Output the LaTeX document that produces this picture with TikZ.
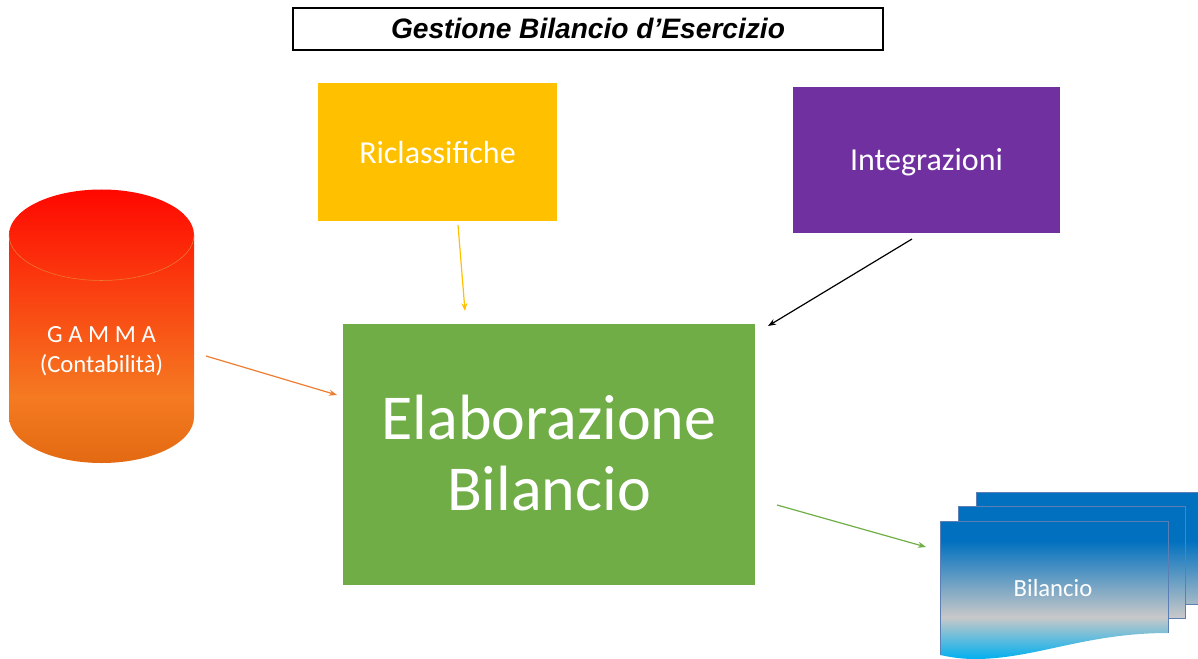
\documentclass[tikz,border=0pt]{standalone}
\usepackage{fontspec}
\setmainfont{Carlito}
\newfontfamily\titlefont{Liberation Sans}
\usetikzlibrary{arrows.meta}
\definecolor{cYellow}{HTML}{FFC000}
\definecolor{cPurple}{HTML}{7030A0}
\definecolor{cGreen}{HTML}{70AD47}
\definecolor{cEdge}{HTML}{5B7FB5}
\definecolor{cOrange}{HTML}{ED7D31}
\pgfdeclareverticalshading{cylfill}{100bp}{
  rgb(0bp)=(0.89,0.415,0.07);
  rgb(25bp)=(0.89,0.415,0.07);
  rgb(37bp)=(0.96,0.48,0.13);
  rgb(75bp)=(1,0.03,0);
  rgb(100bp)=(1,0.03,0)}
\pgfdeclareverticalshading{docfill}{100bp}{
  rgb(0bp)=(0,0.69,0.94);
  rgb(25bp)=(0,0.69,0.94);
  rgb(37.5bp)=(0.785,0.785,0.785);
  rgb(60.5bp)=(0,0.44,0.75);
  rgb(100bp)=(0,0.44,0.75)}
\tikzset{
  x=0.75pt,y=-0.75pt,
  boxnode/.style={inner sep=0pt,outer sep=0pt,text=white,align=center},
  link/.style={line width=0.9pt,-{Stealth[length=6pt,width=4.5pt]}},
  sheetline/.style={draw=cEdge,line width=0.6pt},
}
\begin{document}
\begin{tikzpicture}
\useasboundingbox (0,0) rectangle (1198,659);
% title
\node[draw=black,line width=1.5pt,fill=white,minimum width=442.5pt,minimum height=31.5pt,inner sep=0pt,font=\titlefont\bfseries\itshape\fontsize{21.1pt}{24pt}\selectfont] (title) at (588,29) {\raisebox{0.75pt}[\height][\depth]{Gestione Bilancio d’Esercizio}};
% boxes
\node[boxnode,fill=cYellow,minimum width=179.25pt,minimum height=103.5pt,font=\fontsize{24pt}{28pt}\selectfont] (ricl) at (437.5,152) {\raisebox{-0.75pt}[\height][\depth]{Riclassifiche}};
\node[boxnode,fill=cPurple,minimum width=200.25pt,minimum height=109.5pt,font=\fontsize{24pt}{28pt}\selectfont] (integ) at (926.5,160) {\raisebox{-1.5pt}[\height][\depth]{Integrazioni}};
\node[boxnode,fill=cGreen,minimum width=309pt,minimum height=195.75pt,font=\fontsize{48pt}{53pt}\selectfont] (elab) at (549,454.5) {\raisebox{-4.9pt}[\height][\depth]{\begin{tabular}{@{}c@{}}Elaborazione\\Bilancio\end{tabular}}};
% cylinder
\path[shade,shading=cylfill] (9,235) arc[x radius=92.5,y radius=45.5,start angle=180,end angle=360] -- (194,417) arc[x radius=92.5,y radius=46,start angle=0,end angle=180] -- cycle;
\draw[draw=cOrange,line width=0.4pt] (9,235) arc[x radius=92.5,y radius=45.5,start angle=180,end angle=0];
\node[boxnode,font=\fontsize{18.5pt}{22.5pt}\selectfont] (gamma) at (101.5,351) {G A M M A\\(Contabilità)};
% document stack
\path[shade,shading=docfill] (940,521) -- (958,521) -- (958,506) -- (976,506) -- (976,492) -- (1198,492) -- (1198,604) -- (1185,604) -- (1185,618) -- (1168,618) -- (1168,633) .. controls (1085,633) and (1035,659) .. (975,659) .. controls (960,659) and (950,657) .. (940,655) -- cycle;
\draw[sheetline] (940,655) -- (940,521) -- (1168,521) -- (1168,633);
\draw[sheetline] (958,521) -- (958,506) -- (1185,506) -- (1185,618) -- (1168,618);
\draw[sheetline] (976,506) -- (976,492) -- (1198,492);
\draw[sheetline] (1185,604) -- (1198,604);
\node[boxnode,font=\fontsize{18.5pt}{22pt}\selectfont] (doc) at (1053,588) {Bilancio};
% connector ends
\coordinate (a1) at (458,225); \coordinate (a2) at (465,311);
\coordinate (b1) at (912,239); \coordinate (b2) at (768,326);
\coordinate (c1) at (206,356); \coordinate (c2) at (337,395);
\coordinate (d1) at (777,505); \coordinate (d2) at (926,547);
\draw[link,cYellow] (a1) -- (a2);
\draw[link,black] (b1) -- (b2);
\draw[link,cOrange] (c1) -- (c2);
\draw[link,cGreen] (d1) -- (d2);
\end{tikzpicture}
\end{document}
